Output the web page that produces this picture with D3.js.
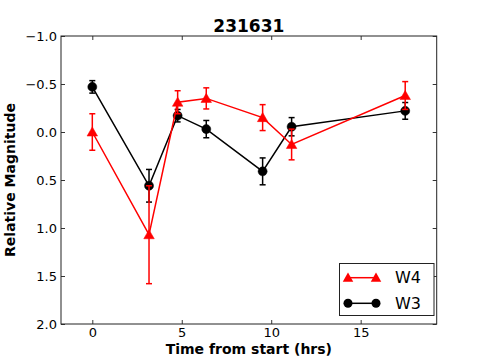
<!DOCTYPE html>
<html><head><meta charset="utf-8">
<script src="https://cdn.jsdelivr.net/npm/d3@7"></script>
<style>body{margin:0;background:#fff}svg{display:block}text{font-family:"DejaVu Sans",sans-serif}</style>
</head><body><svg id="c" width="485" height="360"></svg>
<script>
const title = "231631";
const xTicks = [0, 5, 10, 15];
const yTicks = [-1.0, -0.5, 0.0, 0.5, 1.0, 1.5, 2.0];
const w3Time = [0, 3.17, 4.77, 6.37, 9.52, 11.14, 17.49];
const w3Mag  = [-0.47, 0.56, -0.17, -0.03, 0.41, -0.055, -0.22];
const w3Err  = [0.065, 0.17, 0.065, 0.09, 0.14, 0.095, 0.087];
const w4Time = [0, 3.17, 4.77, 6.37, 9.52, 11.14, 17.49];
const w4Mag  = [0.0, 1.07, -0.31, -0.35, -0.15, 0.13, -0.38];
const w4Err  = [0.19, 0.51, 0.12, 0.11, 0.135, 0.16, 0.145];

const svg = d3.select("#c");
const L = 61, R = 436.7, T = 36, B = 324;
const x = d3.scaleLinear().domain([-1.75, 19.25]).range([L, R]);
const y = d3.scaleLinear().domain([-1.0, 2.0]).range([T, B]);
const fmtY = v => d3.format(".1f")(v).replace("-", "\u2212");

// axes (ticks inward)
const gB = svg.append("g").attr("transform", `translate(0,${B})`)
  .call(d3.axisBottom(x).tickValues(xTicks).tickSizeInner(-4).tickSizeOuter(0).tickPadding(4).tickFormat(d3.format("d")));
const gT = svg.append("g").attr("transform", `translate(0,${T})`)
  .call(d3.axisTop(x).tickValues(xTicks).tickSizeInner(-4).tickSizeOuter(0).tickFormat(""));
const gL = svg.append("g").attr("transform", `translate(${L},0)`)
  .call(d3.axisLeft(y).tickValues(yTicks).tickSizeInner(-4).tickSizeOuter(0).tickPadding(4).tickFormat(fmtY));
const gR = svg.append("g").attr("transform", `translate(${R},0)`)
  .call(d3.axisRight(y).tickValues(yTicks).tickSizeInner(-4).tickSizeOuter(0).tickFormat(""));
[gB, gT, gL, gR].forEach(g => {
  g.select(".domain").remove();
  g.selectAll(".tick line").attr("stroke", "#000").attr("stroke-width", 0.8);
  g.selectAll("text").attr("font-size", 13).attr("fill", "#000");
});
gB.selectAll("text").attr("dy", "0.71em");
svg.append("rect").attr("x", L).attr("y", T).attr("width", R - L).attr("height", B - T)
  .attr("fill", "none").attr("stroke", "#222").attr("stroke-width", 1);

function series(times, mags, errs, color, shape) {
  const g = svg.append("g");
  const pts = times.map((t, i) => ({t, m: mags[i], e: errs[i]}));
  g.append("path").datum(pts)
    .attr("d", d3.line().x(d => x(d.t)).y(d => y(d.m)))
    .attr("fill", "none").attr("stroke", color).attr("stroke-width", 1.5);
  const eb = g.selectAll(".eb").data(pts).enter().append("g");
  eb.append("line").attr("x1", d => x(d.t)).attr("x2", d => x(d.t))
    .attr("y1", d => y(d.m - d.e)).attr("y2", d => y(d.m + d.e))
    .attr("stroke", color).attr("stroke-width", 1.5);
  [-1, 1].forEach(s => {
    eb.append("line").attr("x1", d => x(d.t) - 3).attr("x2", d => x(d.t) + 3)
      .attr("y1", d => y(d.m + s * d.e)).attr("y2", d => y(d.m + s * d.e))
      .attr("stroke", color).attr("stroke-width", 1.5);
  });
  const sym = d3.symbol().type(shape === "tri" ? d3.symbolTriangle : d3.symbolCircle)
    .size(shape === "tri" ? 48 : 64);
  g.selectAll(".mk").data(pts).enter().append("path")
    .attr("d", sym).attr("transform", d => `translate(${x(d.t)},${y(d.m) + (shape === "tri" ? 1 : 0)})`)
    .attr("fill", color).attr("stroke", color).attr("stroke-width", 0.5);
}
series(w3Time, w3Mag, w3Err, "#000", "circ");
series(w4Time, w4Mag, w4Err, "#ff0000", "tri");

// title & labels
svg.append("text").attr("x", (L + R) / 2).attr("y", 32).attr("text-anchor", "middle")
  .attr("font-size", 17).attr("font-weight", "bold").text(title);
svg.append("text").attr("x", (L + R) / 2).attr("y", 354).attr("text-anchor", "middle")
  .attr("font-size", 14).attr("font-weight", "bold").text("Time from start (hrs)");
svg.append("text").attr("transform", `translate(15,${(T + B) / 2}) rotate(-90)`).attr("text-anchor", "middle")
  .attr("font-size", 14).attr("font-weight", "bold").text("Relative Magnitude");

// legend
const lg = svg.append("g");
lg.append("rect").attr("x", 339.5).attr("y", 263.5).attr("width", 94.5).attr("height", 52)
  .attr("fill", "#fff").attr("stroke", "#222").attr("stroke-width", 1);
const items = [{name: "W4", color: "#ff0000", shape: "tri", yy: 277.7}, {name: "W3", color: "#000", shape: "circ", yy: 303.3}];
items.forEach(it => {
  lg.append("line").attr("x1", 348).attr("x2", 376).attr("y1", it.yy).attr("y2", it.yy)
    .attr("stroke", it.color).attr("stroke-width", 1.5);
  const sym = d3.symbol().type(it.shape === "tri" ? d3.symbolTriangle : d3.symbolCircle).size(it.shape === "tri" ? 48 : 64);
  [348, 376].forEach(px => lg.append("path").attr("d", sym)
    .attr("transform", `translate(${px},${it.yy + (it.shape === "tri" ? 1 : 0)})`).attr("fill", it.color));
  lg.append("text").attr("x", 395).attr("y", it.yy).attr("dy", "0.36em").attr("font-size", 16).text(it.name);
});
</script></body></html>
